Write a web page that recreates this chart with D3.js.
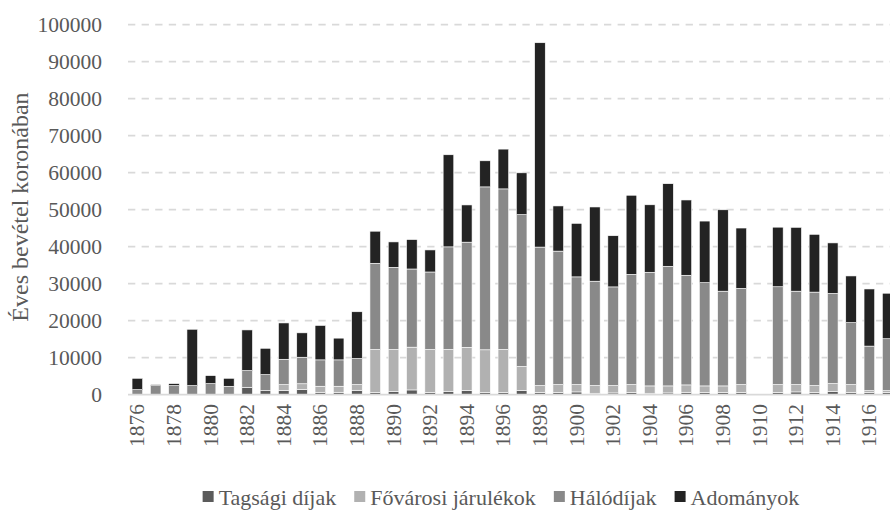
<!DOCTYPE html>
<html>
<head>
<meta charset="utf-8">
<script src="https://cdn.jsdelivr.net/npm/d3@7"></script>
<style>
  body { margin: 0; background: #fff; }
  svg text { font-family: "Liberation Serif", "DejaVu Serif", serif !important; fill: #595959; }
</style>
</head>
<body>
<div class="chart"></div>
<script>
// years 1876 - 1917
const years = d3.range(1876, 1918);

const tagsagi = [0,0,0,0,0,0,1980,1080,1080,1350,630,630,1170,540,810,1260,540,900,1080,540,540,1080,540,540,720,360,450,540,360,450,630,540,540,540,0,540,720,540,810,540,540,540];
const fovarosi = [0,0,0,0,0,0,0,0,1620,1580,1630,1630,1540,11650,11380,11560,11650,11300,11700,11570,11660,6510,1900,2170,1990,2080,1990,2170,1990,1900,1990,1810,1810,2170,0,2170,1990,1900,2170,2170,540,540];
const halodijak = [1350,2430,2430,2430,2970,2250,4510,4320,6850,7170,7130,7130,7040,23300,22210,21130,20950,27730,28420,44030,43400,41050,37430,36070,29110,28210,26670,29790,30710,32330,29630,27900,25600,25990,0,26440,25240,25260,24370,16740,12030,14020];
const adomanyok = [3060,270,540,15230,2165,2160,10990,7120,9820,6590,9300,5870,12640,8670,6870,7950,5960,24890,10060,7050,10750,11300,55230,12210,14470,20060,13830,21380,18240,22320,20350,16650,22000,16320,0,16100,17260,15620,13650,12620,15440,12300];

const seriesNames = ["Tagsági díjak", "Fővárosi járulékok", "Hálódíjak", "Adományok"];
const seriesKeys = ["tagsagi", "fovarosi", "halodijak", "adomanyok"];
const colors = ["#5b5b5b", "#b1b1b1", "#898989", "#232323"];
const yTicks = d3.range(0, 100001, 10000);

const width = 890, height = 511;
const serif = "'Liberation Serif', 'DejaVu Serif', serif";

const data = years.map((y, i) => ({
  year: y,
  tagsagi: tagsagi[i],
  fovarosi: fovarosi[i],
  halodijak: halodijak[i],
  adomanyok: adomanyok[i]
}));

const svg = d3.select(".chart")
  .append("svg")
    .attr("width", width)
    .attr("height", height)
    .style("font-family", serif);

const xScale = d3.scaleBand()
  .domain(years)
  .range([128.2, 128.2 + 42 * 18.3])
  .paddingInner(0.42)
  .paddingOuter(0.21);

const yScale = d3.scaleLinear()
  .domain([0, 100000])
  .range([394.6, 24.6]);

// gridlines
svg.append("g")
  .selectAll("line")
  .data(yTicks.filter(d => d > 0))
  .join("line")
    .attr("x1", 128)
    .attr("x2", width)
    .attr("y1", d => yScale(d))
    .attr("y2", d => yScale(d))
    .attr("stroke", "#d9d9d9")
    .attr("stroke-width", 1.6)
    .attr("stroke-dasharray", "7.3,6.3");

// y labels
svg.append("g")
  .attr("transform", "translate(102,0)")
  .call(d3.axisLeft(yScale).tickValues(yTicks).tickSize(0).tickPadding(0).tickFormat(d3.format("d")))
  .call(g => g.select(".domain").remove())
  .attr("font-family", null)
  .selectAll("text")
    .style("font-family", serif)
    .style("font-size", "21.5px")
    .attr("fill", "#595959");

// stacked bars
const stack = d3.stack().keys(seriesKeys)(data);

svg.append("g")
  .selectAll("g")
  .data(stack)
  .join("g")
    .attr("fill", (d, i) => colors[i])
  .selectAll("rect")
  .data(d => d)
  .join("rect")
    .attr("x", d => xScale(d.data.year))
    .attr("width", xScale.bandwidth())
    .attr("y", d => yScale(d[1]))
    .attr("height", d => yScale(d[0]) - yScale(d[1]))
    .attr("stroke", "#fff")
    .attr("stroke-width", 0.6);

// baseline
svg.append("line")
  .attr("x1", 128)
  .attr("x2", width)
  .attr("y1", yScale(0))
  .attr("y2", yScale(0))
  .attr("stroke", "#d9d9d9")
  .attr("stroke-width", 1.6);

// x labels, every second year
svg.append("g")
  .selectAll("text")
  .data(years.filter(y => (y - 1876) % 2 === 0))
  .join("text")
    .attr("transform", d => `translate(${xScale(d) + xScale.bandwidth() / 2},404) rotate(-90)`)
    .attr("text-anchor", "end")
    .attr("dominant-baseline", "central")
    .style("font-family", serif)
    .style("font-size", "21.5px")
    .text(d => d);

// y title
svg.append("text")
  .attr("transform", "translate(20,207) rotate(-90)")
  .attr("text-anchor", "middle")
  .attr("dominant-baseline", "central")
  .style("font-family", serif)
  .style("font-size", "24px")
  .text("Éves bevétel koronában");

// legend
const gap = 18;
const legend = svg.append("g").attr("transform", "translate(0,497)");
let lx = 0;
const items = legend.selectAll("g")
  .data(seriesNames)
  .join("g");

items.append("rect")
  .attr("y", -6)
  .attr("width", 11)
  .attr("height", 11)
  .attr("fill", (d, i) => colors[i]);

items.append("text")
  .attr("x", 16)
  .attr("dominant-baseline", "central")
  .style("font-family", serif)
  .style("font-size", "22px")
  .text(d => d);

items.each(function() {
  const g = d3.select(this);
  const w = g.select("text").node().getComputedTextLength() + 16;
  g.attr("transform", `translate(${lx},0)`);
  lx += w + gap;
});
lx -= gap;
legend.attr("transform", `translate(${501 - lx / 2},497)`);
</script>
</body>
</html>
